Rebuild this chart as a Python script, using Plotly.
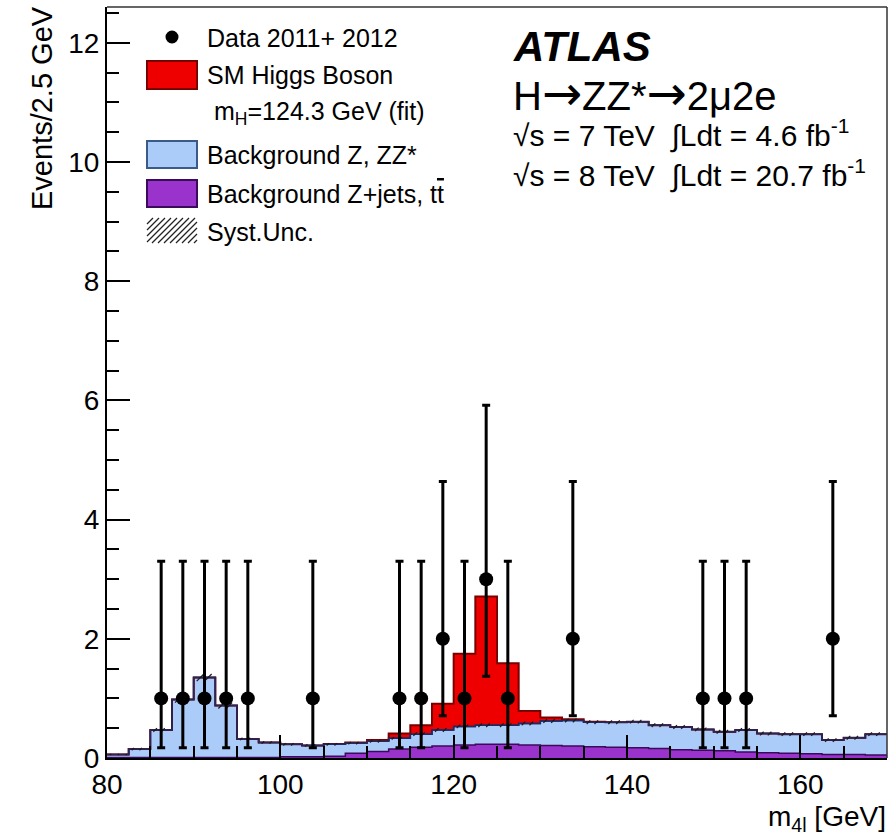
import plotly.graph_objects as go

# ---- histogram binning (2.5 GeV bins, 80-170 GeV) ----
bin_edges = [80 + 2.5 * i for i in range(37)]

# Background Z+jets, ttbar (bottom of stack)
bkg_zjets = [0.01, 0.01, 0.01, 0.01, 0.01, 0.01, 0.01, 0.01, 0.02, 0.02,
             0.03, 0.08, 0.11, 0.15, 0.18, 0.20, 0.22, 0.23, 0.23, 0.22,
             0.21, 0.20, 0.19, 0.18, 0.17, 0.16, 0.14, 0.13, 0.12, 0.10,
             0.09, 0.08, 0.07, 0.06, 0.06, 0.05]
# Background Z, ZZ* (stacked on Z+jets)
bkg_zz = [0.05, 0.14, 0.46, 0.97, 1.34, 0.87, 0.31, 0.25, 0.21, 0.19,
          0.20, 0.17, 0.17, 0.18, 0.22, 0.27, 0.31, 0.32, 0.32, 0.36,
          0.41, 0.43, 0.41, 0.42, 0.44, 0.39, 0.38, 0.35, 0.32, 0.37,
          0.32, 0.32, 0.33, 0.24, 0.28, 0.35]
# SM Higgs signal, mH = 124.3 GeV (stacked on the backgrounds)
sig_higgs = [0.0, 0.0, 0.0, 0.0, 0.0, 0.0, 0.0, 0.0, 0.0, 0.0,
             0.005, 0.01, 0.02, 0.08, 0.15, 0.44, 1.22, 2.16, 1.04, 0.21,
             0.06, 0.02, 0.01, 0.0, 0.0, 0.0, 0.0, 0.0, 0.0, 0.0,
             0.0, 0.0, 0.0, 0.0, 0.0, 0.0]
# Systematic uncertainty on the total background
syst_unc = [0.01, 0.02, 0.03, 0.05, 0.06, 0.05, 0.02, 0.02, 0.02, 0.02,
            0.02, 0.02, 0.02, 0.02, 0.03, 0.03, 0.03, 0.03, 0.03, 0.03,
            0.03, 0.03, 0.03, 0.03, 0.03, 0.03, 0.03, 0.03, 0.03, 0.03,
            0.03, 0.03, 0.03, 0.03, 0.03, 0.03]

# ---- data 2011 + 2012 ----
data_x = [86.25, 88.75, 91.25, 93.75, 96.25, 103.75, 113.75, 116.25, 118.75,
          121.25, 123.75, 126.25, 133.75, 148.75, 151.25, 153.75, 163.75]
data_n = [1, 1, 1, 1, 1, 1, 1, 1, 2, 1, 3, 1, 2, 1, 1, 1, 2]
data_err_up = [2.30, 2.30, 2.30, 2.30, 2.30, 2.30, 2.30, 2.30, 2.64,
               2.30, 2.92, 2.30, 2.64, 2.30, 2.30, 2.30, 2.64]
data_err_dn = [0.83, 0.83, 0.83, 0.83, 0.83, 0.83, 0.83, 0.83, 1.29,
               0.83, 1.63, 0.83, 1.29, 0.83, 0.83, 0.83, 1.29]

FONT = "Liberation Sans, Arial, Helvetica, sans-serif"
C_RED, C_RED_LINE = "#ee0000", "#7a0000"
C_BLUE, C_BLUE_LINE = "#abcbf8", "#1c2b63"
C_PURP, C_PURP_LINE = "#9933cc", "#3c0a5a"

X_RANGE = [80, 170]
Y_RANGE = [0, 12.6]
L, R, T, B = 107, 887, 7, 758
W, H = 891, 837

# cumulative stack levels
lvl_zjets = list(bkg_zjets)
lvl_bkg = [a + b for a, b in zip(bkg_zjets, bkg_zz)]
lvl_total = [a + b for a, b in zip(lvl_bkg, sig_higgs)]


def steps(vals):
    return vals + [vals[-1]]


fig = go.Figure()

# filled stack: Z+jets, then ZZ*, then Higgs
fig.add_trace(go.Scatter(x=bin_edges, y=steps(lvl_zjets), mode="lines",
                         line=dict(shape="hv", color=C_PURP_LINE, width=1.5),
                         fill="tozeroy", fillcolor=C_PURP, hoverinfo="skip"))
fig.add_trace(go.Scatter(x=bin_edges, y=steps(lvl_bkg), mode="lines",
                         line=dict(shape="hv", color=C_BLUE_LINE, width=1.5),
                         fill="tonexty", fillcolor=C_BLUE, hoverinfo="skip"))
fig.add_trace(go.Scatter(x=bin_edges, y=steps(lvl_total), mode="lines",
                         line=dict(shape="hv", color=C_RED_LINE, width=2),
                         fill="tonexty", fillcolor=C_RED, hoverinfo="skip"))
# background outline redrawn over the signal outline where they coincide
fig.add_trace(go.Scatter(x=bin_edges, y=steps(lvl_bkg), mode="lines",
                         line=dict(shape="hv", color=C_BLUE_LINE, width=1.5),
                         hoverinfo="skip"))

# hatched systematic band around the total background: short 45-degree
# strokes between (background - unc) and (background + unc) in each bin
px_per_x = (R - L) / (X_RANGE[1] - X_RANGE[0])
px_per_y = (B - T) / (Y_RANGE[1] - Y_RANGE[0])
hx, hy = [], []
for i, (lo, level, u) in enumerate(zip(bin_edges[:-1], lvl_bkg, syst_unc)):
    dx = 2 * u * px_per_y / px_per_x
    xk = lo + 0.35
    while xk + dx <= lo + 2.5 - 0.1:
        hx += [xk, xk + dx, None]
        hy += [level - u, level + u, None]
        xk += 0.9
fig.add_trace(go.Scatter(x=hx, y=hy, mode="lines",
                         line=dict(color="#1a1a1a", width=1.2),
                         hoverinfo="skip"))

fig.add_trace(go.Scatter(x=data_x, y=data_n, mode="markers",
                         marker=dict(color="black", size=14, symbol="circle"),
                         error_y=dict(type="data", symmetric=False,
                                      array=data_err_up, arrayminus=data_err_dn,
                                      color="black", thickness=3, width=4),
                         hoverinfo="skip"))


# ---- layout helpers (pixel -> paper coordinates) ----
def px(xp):
    return (xp - L) / (R - L)


def py(yp):
    return (B - yp) / (B - T)


shapes = [
    dict(type="line", xref="paper", yref="paper", x0=0, x1=1, y0=1, y1=1,
         line=dict(color="#333", width=1.5)),
    dict(type="line", xref="paper", yref="paper", x0=1, x1=1, y0=0, y1=1,
         line=dict(color="#333", width=1.5)),
]

# legend swatches
shapes.append(dict(type="circle", xref="paper", yref="paper",
                   x0=px(165.5), x1=px(178.5), y0=py(43.5), y1=py(30.5),
                   fillcolor="black", line=dict(width=0)))
for (y0, y1, fc, lc) in [(61, 89, C_RED, C_RED_LINE),
                         (141, 168, C_BLUE, "#3a5a8a"),
                         (180, 207, C_PURP, C_PURP_LINE)]:
    shapes.append(dict(type="rect", xref="paper", yref="paper",
                       x0=px(147), x1=px(197), y0=py(y1), y1=py(y0),
                       fillcolor=fc, line=dict(color=lc, width=2)))

hx0, hx1, hy0, hy1 = 147, 197, 218, 243
for k in range(13):
    u = 122 + 6 * k
    xs, ys = u, hy1
    xe, ye = u + (hy1 - hy0), hy0
    if xs < hx0:
        ys = hy1 - (hx0 - xs)
        xs = hx0
    if xe > hx1:
        ye = hy0 + (xe - hx1)
        xe = hx1
    if xe <= xs:
        continue
    shapes.append(dict(type="line", xref="paper", yref="paper",
                       x0=px(xs), y0=py(ys), x1=px(xe), y1=py(ye),
                       line=dict(color="#222", width=1.2)))

annotations = []


def text(x, y, s, size, xanchor="left", yanchor="middle", angle=0):
    annotations.append(dict(xref="paper", yref="paper", x=px(x), y=py(y),
                            text=s, showarrow=False, xanchor=xanchor,
                            yanchor=yanchor, textangle=angle,
                            font=dict(family=FONT, size=size, color="black")))


ARROW = "<span style='font-family:DejaVu Sans;font-size:48px'>→</span>"
GAP = "\u00a0\u00a0"

text(205, 38, "Data 2011+ 2012", 25)
text(205, 75, "SM Higgs Boson", 25)
text(212, 113, "m<sub>H</sub>=124.3 GeV (fit)", 25)
text(205, 155, "Background Z, ZZ*", 25)
text(205, 194, "Background Z+jets, t<span style='text-decoration:overline'>t</span>", 25)
text(205, 232, "Syst.Unc.", 25)

text(511, 46, "<b><i>ATLAS</i></b>", 42)
text(511, 93, "H" + ARROW + "ZZ*" + ARROW + "2μ2e", 40)
text(511, 134, "√s = 7 TeV" + GAP + "∫Ldt = 4.6 fb<sup>-1</sup>", 30)
text(511, 174, "√s = 8 TeV" + GAP + "∫Ldt = 20.7 fb<sup>-1</sup>", 30)

text(42, 4, "Events/2.5 GeV", 29, xanchor="center", yanchor="top", angle=-90)
text(888, 818, "m<sub>4l</sub> [GeV]", 28, xanchor="right", yanchor="middle")

fig.update_layout(
    width=W, height=H,
    margin=dict(l=L, r=W - R, t=T, b=H - B, pad=0),
    paper_bgcolor="white", plot_bgcolor="white",
    showlegend=False,
    shapes=shapes, annotations=annotations,
    font=dict(family=FONT, size=28, color="black"),
)
fig.update_xaxes(range=X_RANGE, tick0=80, dtick=20, showgrid=False,
                 zeroline=False, showline=True, linecolor="black",
                 linewidth=2, ticks="inside", ticklen=23, tickwidth=2,
                 tickcolor="black", tickfont=dict(family=FONT, size=28),
                 layer="above traces",
                 minor=dict(dtick=5, ticklen=12, tickwidth=2,
                            tickcolor="black", ticks="inside"))
fig.update_yaxes(range=Y_RANGE, tick0=0, dtick=2, showgrid=False,
                 zeroline=False, showline=True, linecolor="black",
                 linewidth=2, ticks="inside", ticklen=23, tickwidth=2,
                 tickcolor="black", tickfont=dict(family=FONT, size=28),
                 layer="above traces",
                 minor=dict(dtick=0.5, ticklen=12, tickwidth=2,
                            tickcolor="black", ticks="inside"))

fig.write_html("out.html")
